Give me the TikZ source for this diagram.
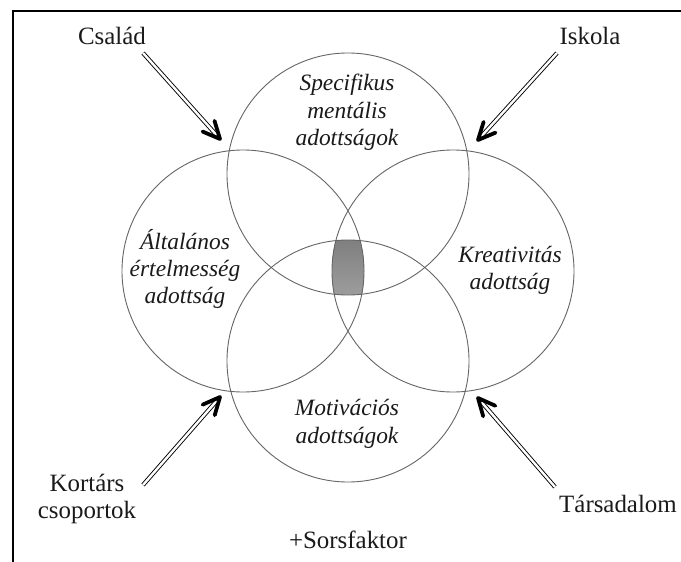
\documentclass[tikz,border=0pt]{standalone}
\usepackage{fontspec}
\setmainfont{Liberation Serif}
\usetikzlibrary{calc}
\definecolor{ringgray}{HTML}{666666}
\definecolor{txt}{HTML}{1A1A1A}
\definecolor{shade}{HTML}{8C8C8C}
\begin{document}
\begin{tikzpicture}[x=1bp,y=-1bp,
  ring/.style={circle, draw=ringgray, line width=0.9bp, minimum size=242bp, inner sep=0pt},
  itlabel/.style={font=\itshape\fontsize{23.5}{27.5}\selectfont, align=center, text=txt, inner sep=0pt},
  uplabel/.style={font=\fontsize{25}{27}\selectfont, align=center, text=txt, inner sep=0pt},
  shaft/.style={draw=black, double=white, double distance=2.4bp, line width=0.9bp},
  chevron/.style={draw=black, line width=3.8bp, line cap=round, line join=round}]
\useasboundingbox (0,0) rectangle (681,562);
\fill[white] (0,0) rectangle (681,562);
% frame (only top and left edges visible)
\draw[line width=2bp] (13,562) -- (13,11) -- (681,11);
% circle centres
\coordinate (ctop) at (348,174);
\coordinate (cleft) at (243,271);
\coordinate (cright) at (453,271);
\coordinate (cbot) at (348,361);
% shaded common intersection
\begin{scope}
  \clip (ctop) circle (121bp);
  \clip (cleft) circle (121bp);
  \clip (cright) circle (121bp);
  \fill[shade] (cbot) circle (121bp);
\end{scope}
% circles
\node[ring] (top) at (ctop) {};
\node[ring] (left) at (cleft) {};
\node[ring] (right) at (cright) {};
\node[ring] (bot) at (cbot) {};
% circle texts
\node[itlabel] (spec) at (347,112.5) {Specifikus\\mentális\\adottságok};
\node[itlabel] (alt) at (185,269) {Általános\\értelmesség\\adottság};
\node[itlabel] (krea) at (510,270.5) {Kreativitás\\adottság};
\node[itlabel] (moti) at (347,424) {Motivációs\\adottságok};
% outer labels
\node[uplabel, anchor=base] (csal) at (112,45) {Család};
\node[uplabel, anchor=base] (isk) at (590,45) {Iskola};
\node[uplabel] (kort) at (87,499) {Kortárs\\csoportok};
\node[uplabel, anchor=base] (tars) at (618,512) {Társadalom};
\node[uplabel, anchor=base] (sors) at (348,548) {+Sorsfaktor};
% arrow ends
\coordinate (famS) at (143,53);  \coordinate (famT) at (220,139);
\coordinate (iskS) at (557,53);  \coordinate (iskT) at (478,140);
\coordinate (korS) at (143,485); \coordinate (korT) at (220,397);
\coordinate (tarS) at (555,487); \coordinate (tarT) at (478,398);
% arrows
\foreach \a in {fam,isk,kor,tar}{
  \draw[shaft] (\a S) -- ($(\a T)!3bp!(\a S)$);
  \draw[chevron] ($(\a T)!19bp!-25:(\a S)$) -- (\a T) -- ($(\a T)!19bp!25:(\a S)$);
}
\end{tikzpicture}
\end{document}
